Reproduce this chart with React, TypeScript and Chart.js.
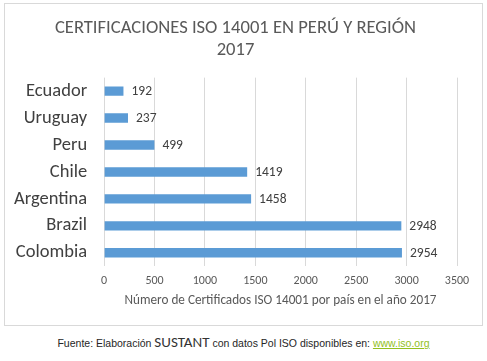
import React, { useEffect, useRef } from "react";
import { Chart, registerables } from "chart.js";

Chart.register(...registerables);

const categories = ["Ecuador", "Uruguay", "Peru", "Chile", "Argentina", "Brazil", "Colombia"];
const values = [192, 237, 499, 1419, 1458, 2948, 2954];
const titleLines = ["CERTIFICACIONES ISO 14001 EN PERÚ Y REGIÓN", "2017"];
const xAxisTitle = "Número de Certificados ISO 14001 por país en el año 2017";
const xMin = 0;
const xMax = 3500;
const xStep = 500;

const FONT = "Carlito, Lato, 'Open Sans', sans-serif";
const Y_TICK_PAD = 17;
const X_TICK_PAD = 8;

const dataLabels = {
  id: "dataLabels",
  afterDatasetsDraw(chart: any) {
    const ctx = chart.ctx;
    const meta = chart.getDatasetMeta(0);
    ctx.save();
    ctx.font = `13.5px ${FONT}`;
    ctx.fillStyle = "#404040";
    ctx.textAlign = "left";
    ctx.textBaseline = "middle";
    meta.data.forEach((bar: any, i: number) => {
      ctx.fillText(String(chart.data.datasets[0].data[i]), bar.x + 8, bar.y + 1);
    });
    ctx.restore();
  },
};

export default function App() {
  const ref = useRef<HTMLCanvasElement | null>(null);
  useEffect(() => {
    if (!ref.current) return;
    const chart = new Chart(ref.current, {
      type: "bar",
      data: {
        labels: categories,
        datasets: [
          {
            data: values,
            backgroundColor: "#5B9BD5",
            borderColor: "#5B9BD5",
            barPercentage: 0.7,
            categoryPercentage: 0.5,
          },
        ],
      },
      options: {
        indexAxis: "y",
        animation: false,
        responsive: false,
        maintainAspectRatio: false,
        layout: { padding: { left: 9, right: 25, top: 6, bottom: 16 } },
        plugins: {
          legend: { display: false },
          tooltip: { enabled: false },
          title: {
            display: true,
            text: titleLines,
            color: "#595959",
            font: { family: FONT, size: 18.6, weight: "normal", lineHeight: 1.2 },
            padding: { top: 7, bottom: 16 },
          },
        },
        scales: {
          x: {
            min: xMin,
            max: xMax,
            afterFit: (s: any) => {
              s.height -= X_TICK_PAD;
            },
            ticks: {
              stepSize: xStep,
              color: "#595959",
              font: { family: FONT, size: 12 },
              padding: X_TICK_PAD,
              callback: (v: any) => String(v),
            },
            grid: { color: "#d9d9d9", drawTicks: false },
            border: { display: false },
            title: {
              display: true,
              text: xAxisTitle,
              color: "#595959",
              font: { family: FONT, size: 13.2 },
              padding: { top: 4.5, bottom: 0 },
            },
          },
          y: {
            afterFit: (s: any) => {
              s.width -= Y_TICK_PAD;
            },
            ticks: {
              color: "#404040",
              font: { family: FONT, size: 18.5 },
              padding: Y_TICK_PAD,
            },
            grid: { display: false, drawTicks: false },
            border: { display: false },
          },
        },
      },
      plugins: [dataLabels],
    });
    return () => chart.destroy();
  }, []);

  return (
    <div
      style={{
        position: "fixed",
        left: 0,
        top: 0,
        width: 487,
        height: 361,
        background: "#fff",
      }}
    >
      <div
        style={{
          position: "absolute",
          left: 4,
          top: 3,
          width: 477,
          height: 321,
          border: "1px solid #d9d9d9",
        }}
      >
        <canvas ref={ref} width={477} height={321} style={{ display: "block" }} />
      </div>
      <div
        style={{
          position: "absolute",
          left: 0,
          top: 333,
          width: 487,
          textAlign: "center",
          fontFamily: "'Liberation Sans', Arial, sans-serif",
          fontSize: 10.5,
          color: "#262626",
          whiteSpace: "nowrap",
          lineHeight: "18px",
        }}
      >
        Fuente: Elaboración{" "}
        <span style={{ fontFamily: FONT, fontSize: 15, color: "#333" }}>SUSTANT</span> con datos Pol ISO disponibles en:{" "}
        <span style={{ color: "#92C01E", textDecoration: "underline" }}>www.iso.org</span>
      </div>
    </div>
  );
}
